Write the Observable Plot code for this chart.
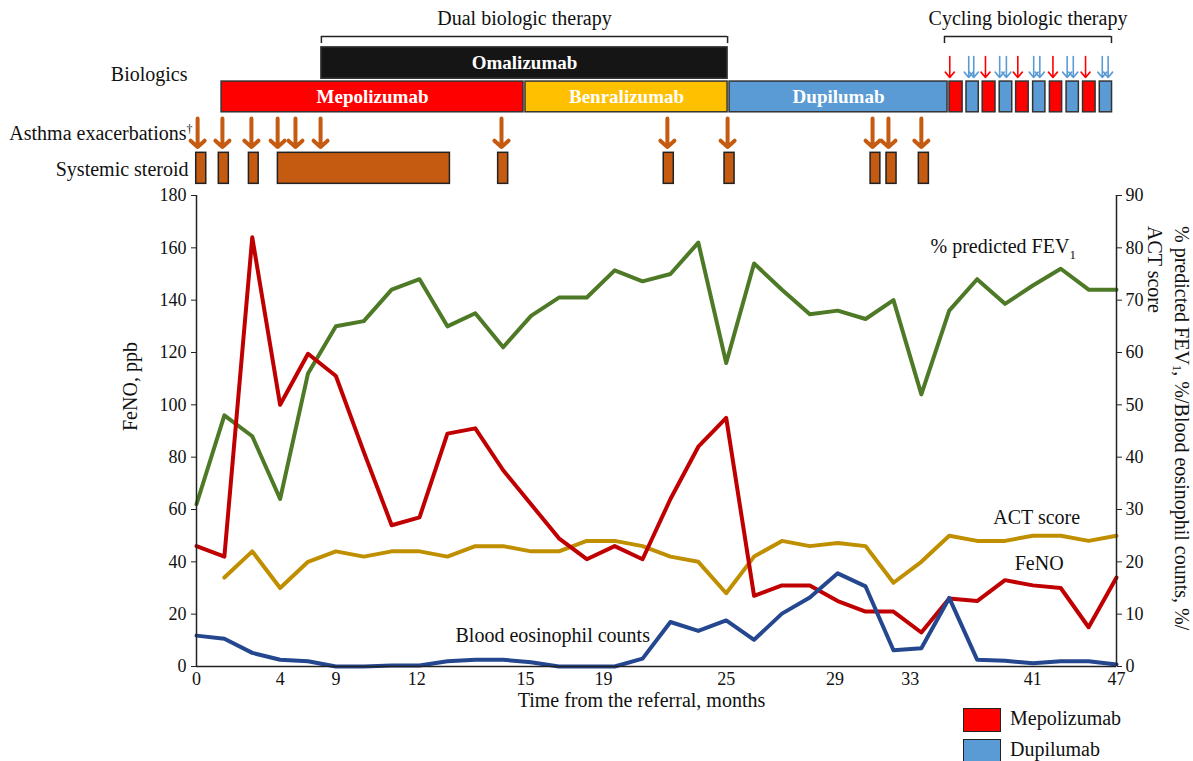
<!DOCTYPE html>
<html><head><meta charset="utf-8">
<script src="https://cdn.jsdelivr.net/npm/d3@7"></script>
<script src="https://cdn.jsdelivr.net/npm/@observablehq/plot@0.6"></script>
<style>
body{margin:0;background:#fff;font-family:"Liberation Serif","Times New Roman",serif;}
#wrap{position:relative;width:1193px;height:761px;overflow:hidden;background:#fff;}
#wrap svg, #wrap svg text{font-family:"Liberation Serif","Times New Roman",serif !important;}
#topTrack{position:absolute;left:0;top:0;}
#mainChart{position:absolute;left:0;top:185px;}
#rtitle{position:absolute;left:1143px;top:226px;writing-mode:vertical-rl;font-size:20px;line-height:23px;color:#111;white-space:nowrap;}
#rtitle sub{font-size:13px;}
.leg{position:absolute;font-size:20px;color:#111;}
.box{position:absolute;width:36px;height:22px;border:1.5px solid #222;}
</style></head>
<body><div id="wrap">
<div id="topTrack"></div>
<div id="mainChart"></div>
<div id="rtitle">% predicted FEV<sub>1</sub>, %/Blood eosinophil counts, %/<br>ACT score</div>
<div id="legend"></div>
</div>
<script>
// ---------- data (x = visit index; month labels shown at their visit positions) ----------
const visitIndex = d3.range(34);
const feno = [46,42,164,100,119.5,111,82,54,57,89,91,75,62,49,41,46,41,64,84,95,27,31,31,25,21,21,13,26,25,33,31,30,15,34];
const fev1 = [31,48,44,32,56,65,66,72,74,65,67.5,61,67,70.5,70.5,75.7,73.6,75,81,58,77,72,67.3,68,66.4,70,52,68,74,69.3,72.8,76,72,72];
const act  = [null,17,22,15,20,22,21,22,22,21,23,23,22,22,24,24,23,21,20,14,21,24,23,23.6,23,16,20,25,24,24,25,25,24,25];
const eos  = [5.9,5.3,2.6,1.3,1.0,0,0,0.2,0.2,1.0,1.3,1.3,0.8,0,0,0,1.5,8.5,6.8,8.8,5.1,10.1,13.2,17.8,15.3,3.1,3.5,13.1,1.3,1.1,0.6,1.0,1.0,0.4];

const monthTickPositions = [0,3,5,7.9,11.8,14.6,19,22.9,25.6,30,33];
const monthTickLabels = ["0","4","9","12","15","19","25","29","33","41","47"];
const leftTicks = [0,20,40,60,80,100,120,140,160,180];
const rightTicks = [0,10,20,30,40,50,60,70,80,90];

// biologic periods (visit-index units)
const bioNames = ["Mepolizumab","Benralizumab","Dupilumab"];
const bioStart = [0.9,11.8,19.12];
const bioEnd   = [11.73,19.05,26.94];
const omaStart = 4.48, omaEnd = 19.05;
const cycleDrug  = ["Mepolizumab","Dupilumab","Mepolizumab","Dupilumab","Mepolizumab","Dupilumab","Mepolizumab","Dupilumab","Mepolizumab","Dupilumab"];
const cycleStart = [27.01,27.62,28.20,28.81,29.40,30.01,30.61,31.21,31.80,32.40];
const cycleEnd   = [27.48,28.06,28.66,29.26,29.85,30.45,31.05,31.65,32.25,32.84];
const mepoDoseX = [27.02,28.30,29.46,30.72,31.89];
const dupiDoseX = [27.70,27.88,28.81,29.05,30.03,30.25,31.23,31.45,32.49,32.70];
const exacerbationX = [0.04,0.93,1.97,2.91,3.55,4.45,10.94,16.89,19.05,24.25,24.82,26.00];
const steroidStart = [-0.01,0.80,1.88,2.92,10.82,16.76,18.94,24.18,24.75,25.91];
const steroidEnd   = [0.35,1.16,2.23,9.09,11.18,17.12,19.30,24.53,25.11,26.27];

const colors = {Mepolizumab:"#FF0000", Benralizumab:"#FFC000", Dupilumab:"#5B9BD5", Omalizumab:"#151515", steroid:"#C55A11",
  feno:"#C00000", fev1:"#4E7A27", act:"#BF8F00", eos:"#24478F"};

const rows = visitIndex.map((i,k)=>({i, feno:feno[k], fev1:fev1[k], act:act[k], eos:eos[k]}));
const bios = bioNames.map((n,k)=>({name:n, start:bioStart[k], end:bioEnd[k]}));
const cycles = cycleDrug.map((n,k)=>({name:n, start:cycleStart[k], end:cycleEnd[k]}));
const steroids = steroidStart.map((s,k)=>({start:s, end:steroidEnd[k]}));

const FONT = '"Liberation Serif", "Times New Roman", serif';
const W = 1193, ML = 196, MR = 77;

// ---------- top annotation track ----------
const R = {title:0.57, bracket:1.14, bracketTick:1.36, oma:[1.48,2.47], bio:[2.56,3.53], dose:[1.77,2.43], exac:[3.73,4.63], steroid:[4.81,5.79],
  labelBio:2.34, labelExac:4.2, labelSteroid:5.35};
const brackets = [{name:"Dual biologic therapy", start:omaStart, end:omaEnd},{name:"Cycling biologic therapy", start:26.83, end:32.82}];
const oma = [{name:"Omalizumab", start:omaStart, end:omaEnd}];

const topChart = Plot.plot({
  width: W, height: 190, marginLeft: ML, marginRight: MR, marginTop: 0, marginBottom: 0,
  style: {fontFamily: FONT, background: "transparent", overflow: "visible"},
  x: {domain: [0,33], axis: null},
  y: {domain: [0,6], range: [0,190], axis: null},
  marks: [
    Plot.text(brackets, {x: d=>(d.start+d.end)/2, y: R.title, text: "name", fontSize: 20, fill: "#111"}),
    Plot.ruleY(brackets, {x1: "start", x2: "end", y: R.bracket, stroke: "#222", strokeWidth: 1.5}),
    Plot.ruleX(brackets.flatMap(d=>[d.start,d.end]), {x: d=>d, y1: R.bracket, y2: R.bracketTick, stroke: "#222", strokeWidth: 1.5}),
    Plot.rect(oma, {x1:"start", x2:"end", y1:R.oma[0], y2:R.oma[1], fill: colors.Omalizumab, stroke:"#333", strokeWidth:1.5}),
    Plot.text(oma, {x: d=>(d.start+d.end)/2, y:(R.oma[0]+R.oma[1])/2, text:"name", fill:"white", fontWeight:"bold", fontSize:19}),
    Plot.rect(bios, {x1:"start", x2:"end", y1:R.bio[0], y2:R.bio[1], fill: d=>colors[d.name], stroke:"#333", strokeWidth:1.5}),
    Plot.text(bios, {x: d=>(d.start+d.end)/2, y:(R.bio[0]+R.bio[1])/2, text:"name", fill:"white", fontWeight:"bold", fontSize:19}),
    Plot.rect(cycles, {x1:"start", x2:"end", y1:R.bio[0], y2:R.bio[1], fill: d=>colors[d.name], stroke:"#333", strokeWidth:1.5}),
    Plot.arrow(mepoDoseX, {x1:d=>d, x2:d=>d, y1:R.dose[0], y2:R.dose[1], stroke: colors.Mepolizumab, strokeWidth:1.6, headAngle:80, headLength:12}),
    Plot.arrow(dupiDoseX, {x1:d=>d, x2:d=>d, y1:R.dose[0], y2:R.dose[1], stroke: colors.Dupilumab, strokeWidth:1.6, headAngle:80, headLength:12}),
    Plot.arrow(exacerbationX, {x1:d=>d, x2:d=>d, y1:R.exac[0], y2:R.exac[1], stroke: colors.steroid, strokeWidth:4, headAngle:95, headLength:8}),
    Plot.rect(steroids, {x1:"start", x2:"end", y1:R.steroid[0], y2:R.steroid[1], fill: colors.steroid, stroke:"#222", strokeWidth:1.5}),
    Plot.text(["Biologics"], {frameAnchor:"left", y: R.labelBio, dx:-9, textAnchor:"end", fontSize:20, fill:"#111"}),
    Plot.text(["Asthma exacerbations†"], {frameAnchor:"left", y: R.labelExac, dx:-4, textAnchor:"end", fontSize:20, fill:"#111"}),
    Plot.text(["Systemic steroid"], {frameAnchor:"left", y: R.labelSteroid, dx:-8, textAnchor:"end", fontSize:20, fill:"#111"})
  ]
});
document.getElementById("topTrack").appendChild(topChart);
d3.select(topChart).selectAll("text").filter(function(){return this.textContent==="Asthma exacerbations†";}).each(function(){
  const t=d3.select(this); t.text("Asthma exacerbations"); t.append("tspan").attr("dy",-7).attr("font-size",12).text("†");
});

// ---------- main chart ----------
const notes = [
  {text:"% predicted FEV1", x:26.33, y:160.5},
  {text:"ACT score", x:28.58, y:57},
  {text:"FeNO", x:29.35, y:39.2},
  {text:"Blood eosinophil counts", x:9.29, y:12},
];
const tickLabelMap = new Map(monthTickPositions.map((p,k)=>[p, monthTickLabels[k]]));

const mainPlot = Plot.plot({
  width: W, height: 576, marginLeft: ML, marginRight: MR, marginTop: 10, marginBottom: 95,
  style: {fontFamily: FONT, background: "transparent", overflow: "visible", color:"#111"},
  x: {domain: [0,33]},
  y: {domain: [0,180]},
  marks: [
    Plot.line(rows, {x:"i", y:d=>d.fev1*2, stroke: colors.fev1, strokeWidth:4}),
    Plot.line(rows, {x:"i", y:d=>d.act==null?NaN:d.act*2, stroke: colors.act, strokeWidth:4}),
    Plot.line(rows, {x:"i", y:"feno", stroke: colors.feno, strokeWidth:4}),
    Plot.line(rows, {x:"i", y:d=>d.eos*2, stroke: colors.eos, strokeWidth:4}),
    Plot.ruleY([0], {stroke:"#222", strokeWidth:1.5}),
    Plot.ruleX([0,33], {stroke:"#222", strokeWidth:1.5}),
    Plot.axisY(leftTicks, {anchor:"left", tickSize:5, tickPadding:5, fontSize:18, label:null, stroke:"#222"}),
    Plot.axisY(rightTicks.map(v=>v*2), {anchor:"right", tickSize:5, tickPadding:4, fontSize:18, label:null, tickFormat:d=>String(d/2), stroke:"#222"}),
    Plot.axisX(monthTickPositions, {tickSize:0, tickPadding:6, fontSize:18, label:null, tickFormat:d=>tickLabelMap.get(d)}),
    Plot.text(["FeNO, ppb"], {frameAnchor:"left", rotate:-90, dx:-66, fontSize:20, fill:"#111"}),
    Plot.text(["Time from the referral, months"], {x:()=>15.96, frameAnchor:"bottom", dy:40, fontSize:20, fill:"#111"}),
    Plot.text(notes, {x:"x", y:"y", text:"text", textAnchor:"start", fontSize:20, fill:"#111"})
  ]
});
document.getElementById("mainChart").appendChild(mainPlot);
d3.select(mainPlot).selectAll("text").filter(function(){return this.textContent==="% predicted FEV1";}).each(function(){
  const t=d3.select(this); t.text("% predicted FEV"); t.append("tspan").attr("dy",6).attr("font-size",13).text("1");
});

// ---------- legend ----------
const legendItems = ["Mepolizumab","Dupilumab"];
const leg = document.getElementById("legend");
legendItems.forEach((n,k)=>{
  const b=document.createElement("div"); b.className="box";
  b.style.left="963px"; b.style.top=(708+31*k)+"px"; b.style.background=colors[n]; leg.appendChild(b);
  const t=document.createElement("div"); t.className="leg"; t.textContent=n;
  t.style.left="1010px"; t.style.top=(707+31*k)+"px"; leg.appendChild(t);
});
</script>
</body></html>
